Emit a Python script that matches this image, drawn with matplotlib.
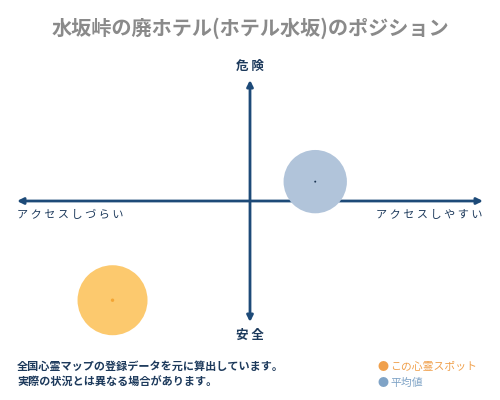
import matplotlib
matplotlib.use("Agg")
import matplotlib.pyplot as plt

plt.rcParams['font.family'] = ['Noto Sans CJK JP', 'DejaVu Sans']

# データ
title = "水坂峠の廃ホテル(ホテル水坂)のポジション"
spot_names = ["この心霊スポット", "平均値"]
access_values = [-0.59, 0.28]    # 横軸: アクセスしづらい(-) ~ しやすい(+)
danger_values = [-0.82, 0.16]    # 縦軸: 安全(-) ~ 危険(+)
bubble_sizes = [2540, 2080]
footer_lines = ["全国心霊マップの登録データを元に算出しています。",
                "実際の状況とは異なる場合があります。"]

fill_colors = ["#FCC96E", "#B1C4DA"]
dot_colors = ["#F3A534", "#1B3552"]
legend_colors = ["#F0A04C", "#7FA3C6"]
axis_color = "#1D4A78"
text_color = "#1D3A5C"


def spaced(s):
    return " ".join(s)


fig = plt.figure(figsize=(5, 4), dpi=100)
fig.patch.set_facecolor("white")

ax = fig.add_axes([0.034, 0.195, 0.932, 0.605])
ax.set_xlim(-1, 1)
ax.set_ylim(-1, 1)
ax.axis("off")

# 矢印
arrow_kw = dict(arrowstyle="<|-|>", color=axis_color, lw=2,
                mutation_scale=9, shrinkA=0, shrinkB=0)
ax.annotate("", xy=(1, 0), xytext=(-1, 0), arrowprops=arrow_kw)
ax.annotate("", xy=(0, 1), xytext=(0, -1), arrowprops=arrow_kw)

# バブル
ax.scatter(access_values, danger_values, s=bubble_sizes, c=fill_colors,
           edgecolors="none", zorder=3, clip_on=False)
ax.scatter(access_values, danger_values, s=[6, 2], c=dot_colors,
           edgecolors="none", zorder=4, clip_on=False)

# タイトル
fig.text(0.5, 0.93, title, ha="center", va="center",
         fontsize=14.5, color="#8A8A8A", fontweight="bold")

# 軸ラベル
fig.text(0.5, 0.835, spaced("危険"), ha="center", va="center",
         fontsize=9, color=text_color, fontweight="bold")
fig.text(0.5, 0.162, spaced("安全"), ha="center", va="center",
         fontsize=9, color=text_color, fontweight="bold")
fig.text(0.034, 0.462, spaced("アクセスしづらい"), ha="left", va="center",
         fontsize=8, color=text_color)
fig.text(0.966, 0.462, spaced("アクセスしやすい"), ha="right", va="center",
         fontsize=8, color=text_color)

# 注記
for i, line in enumerate(footer_lines):
    fig.text(0.034, 0.083 - i * 0.04, line, ha="left", va="center",
             fontsize=8, color=text_color, fontweight="bold")

# 凡例
for i, name in enumerate(spot_names):
    y = 0.083 - i * 0.04
    fig.text(0.755, y, "●", ha="left", va="center",
             fontsize=8, color=legend_colors[i])
    fig.text(0.78, y, name, ha="left", va="center",
             fontsize=7.8, color=legend_colors[i])

fig.savefig("out.png", dpi=100)
